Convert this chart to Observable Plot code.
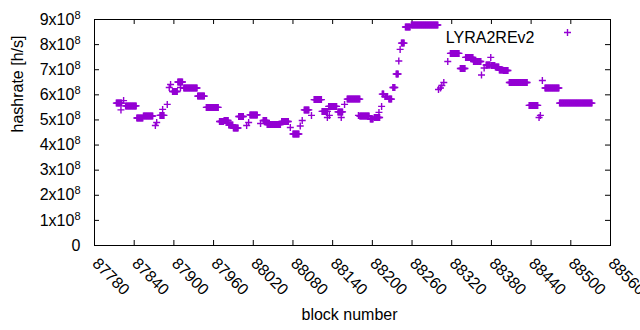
<!DOCTYPE html>
<html>
<head>
<meta charset="utf-8">
<script src="https://cdn.jsdelivr.net/npm/d3@7"></script>
<script src="https://cdn.jsdelivr.net/npm/@observablehq/plot@0.6"></script>
<style>
  html, body { margin: 0; padding: 0; background: #fff; }
  #chart { width: 640px; height: 330px; }
</style>
</head>
<body>
<div id="chart"></div>
<script>
// ---- Data ----
// Each run: consecutive blocks [blockStart..blockEnd] sharing one hashrate value
const blockStart = [87813,87824,87820,87827,87844,87854,87872,87874,87879,87883,87890,87893,87895,87898,87906,87910,87915,87936,87949,87969,87976,87983,87990,87998,88010,88013,88015,88031,88035,88041,88063,88076,88080,88091,88094,88097,88108,88112,88124,88132,88135,88134,88148,88153,88158,88162,88179,88181,88197,88203,88210,88214,88215,88219,88225,88231,88236,88240,88242,88244,88250,88259,88300,88303,88305,88308,88314,88318,88333,88341,88353,88365,88369,88379,88372,88380,88386,88392,88398,88407,88437,88452,88454,88457,88461,88483];
const blockEnd   = [87821,87824,87820,87843,87853,87868,87872,87874,87885,87883,87890,87893,87895,87905,87913,87910,87935,87946,87967,87975,87982,87989,87997,88005,88010,88013,88026,88031,88040,88061,88073,88076,88089,88091,88094,88104,88108,88123,88132,88132,88135,88146,88155,88153,88158,88181,88179,88195,88201,88211,88210,88214,88217,88223,88229,88234,88239,88240,88242,88248,88257,88299,88300,88303,88305,88308,88314,88331,88340,88352,88364,88365,88369,88379,88378,88385,88391,88397,88405,88434,88450,88452,88454,88457,88482,88532];
const hashrate   = [5.67e8,5.77e8,5.40e8,5.56e8,5.08e8,5.16e8,4.78e8,4.90e8,5.18e8,5.42e8,5.62e8,6.29e8,6.41e8,6.13e8,6.51e8,6.29e8,6.27e8,5.95e8,5.50e8,4.94e8,4.98e8,4.80e8,4.68e8,5.14e8,4.78e8,4.90e8,5.20e8,4.86e8,4.98e8,4.82e8,4.94e8,4.70e8,4.44e8,4.76e8,4.98e8,5.40e8,5.18e8,5.81e8,5.34e8,5.10e8,5.18e8,5.54e8,5.32e8,5.10e8,5.62e8,5.83e8,5.18e8,5.16e8,5.04e8,5.10e8,5.30e8,5.54e8,6.03e8,5.93e8,5.83e8,6.29e8,6.83e8,7.35e8,7.81e8,8.06e8,8.70e8,8.78e8,6.21e8,6.27e8,6.37e8,6.49e8,7.33e8,7.65e8,7.05e8,7.49e8,7.33e8,6.79e8,7.07e8,7.49e8,7.19e8,7.17e8,7.11e8,6.99e8,6.97e8,6.49e8,5.58e8,5.10e8,5.18e8,6.57e8,6.27e8,5.67e8];

const seriesName = "LYRA2REv2";
const xTicks = [87780,87840,87900,87960,88020,88080,88140,88200,88260,88320,88380,88440,88500,88560];
const yTicks = [0,1e8,2e8,3e8,4e8,5e8,6e8,7e8,8e8,9e8];
const xTitle = "block number";
const yTitle = "hashrate [h/s]";

// ---- Build point table (one point per block in each run) ----
const points = [];
blockStart.forEach((s, i) => {
  for (let b = s; b <= blockEnd[i]; b++) points.push({block: b, hashrate: hashrate[i]});
});

const color = "#9400D3";
const plusSymbol = {
  draw(ctx, size) {
    const r = Math.sqrt(size / Math.PI);
    ctx.moveTo(-r, 0); ctx.lineTo(r, 0);
    ctx.moveTo(0, -r); ctx.lineTo(0, r);
  }
};

const xMin = xTicks[0], xMax = xTicks[xTicks.length - 1];
const yMin = yTicks[0], yMax = yTicks[yTicks.length - 1];
const W = 640, H = 330, mL = 94, mR = 30, mT = 19, mB = 85;
const pxX = (xMax - xMin) / (W - mL - mR);
const pxY = (yMax - yMin) / (H - mT - mB);
const tickLen = 5;

const chart = Plot.plot({
  width: W, height: H,
  marginLeft: mL, marginRight: mR, marginTop: mT, marginBottom: mB,
  style: {fontFamily: "'Liberation Sans', Arial, sans-serif", fontSize: "16px", background: "#fff", color: "#000"},
  x: {domain: [xMin, xMax], axis: null},
  y: {domain: [yMin, yMax], axis: null},
  marks: [
    // inward ticks: left/right
    Plot.ruleY(yTicks.slice(1, -1), {x1: xMin, x2: xMin + tickLen * pxX, stroke: "#000"}),
    Plot.ruleY(yTicks.slice(1, -1), {x1: xMax - tickLen * pxX, x2: xMax, stroke: "#000"}),
    // inward ticks: bottom/top
    Plot.ruleX(xTicks.slice(1, -1), {y1: yMin, y2: yMin + tickLen * pxY, stroke: "#000"}),
    Plot.ruleX(xTicks.slice(1, -1), {y1: yMax - tickLen * pxY, y2: yMax, stroke: "#000"}),
    Plot.frame({stroke: "#000", strokeWidth: 1}),
    Plot.axisY({ticks: yTicks, tickSize: 0, tickPadding: 14, fontSize: 16, label: null,
      tickFormat: d => d === 0 ? "0" : `${d / 1e8}x10^8`}),
    Plot.text(xTicks, {x: d => d, frameAnchor: "bottom", dx: -3, dy: 19, rotate: 45,
      textAnchor: "start", text: d => String(d), fontSize: 16}),
    Plot.text([xTitle], {frameAnchor: "bottom", dx: -3, dy: 74, text: d => d, fontSize: 16}),
    Plot.text([yTitle], {frameAnchor: "left", dx: -77, rotate: -90, text: d => d, fontSize: 16}),
    Plot.dot(points, {x: "block", y: "hashrate", symbol: plusSymbol, r: 3.5,
      stroke: color, fill: "none", strokeWidth: 1.4}),
    // legend
    Plot.text([seriesName], {frameAnchor: "top-right", dx: -76, dy: 12, textAnchor: "end", text: d => d, fontSize: 16}),
    Plot.dot([0], {frameAnchor: "top-right", dx: -43, dy: 13, symbol: plusSymbol, r: 3.5,
      stroke: color, fill: "none", strokeWidth: 1.4})
  ]
});

// render superscript exponent for y tick labels
chart.querySelectorAll('g[aria-label="y-axis tick label"] text').forEach(t => {
  const s = t.textContent;
  const m = s.match(/^(.*)\^(\d+)$/);
  if (m) {
    t.textContent = m[1];
    const ts = document.createElementNS("http://www.w3.org/2000/svg", "tspan");
    ts.setAttribute("dy", "-6");
    ts.setAttribute("font-size", "11");
    ts.textContent = m[2];
    t.appendChild(ts);
  }
});

document.getElementById("chart").appendChild(chart);
</script>
</body>
</html>
